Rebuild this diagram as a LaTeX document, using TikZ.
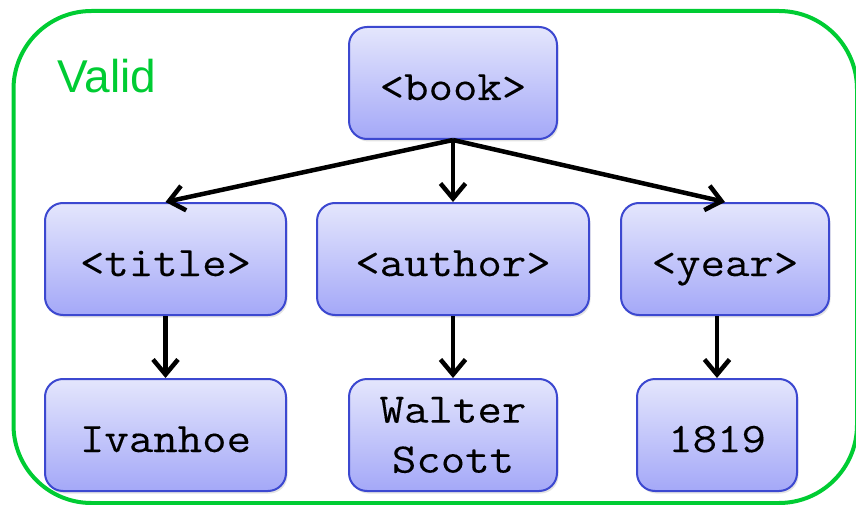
\documentclass[tikz,border=0pt]{standalone}
\usepackage{fontspec}
\setmainfont{Liberation Sans}
\newfontfamily\codefont[FakeStretch=1.13,FakeBold=0.2]{Latin Modern Mono}
\usetikzlibrary{arrows.meta,shadows,calc}

\definecolor{frameGreen}{RGB}{0,204,51}
\definecolor{boxTop}{RGB}{228,230,252}
\definecolor{boxBottom}{RGB}{164,168,248}
\definecolor{boxBorder}{RGB}{60,72,208}

\begin{document}
\begin{tikzpicture}[x=1pt,y=-1pt,
  elem/.style={draw=boxBorder, line width=2pt, rounded corners=18pt,
    top color=boxTop, bottom color=boxBottom,
    drop shadow={opacity=0.22, shadow xshift=1.5pt, shadow yshift=-2.5pt},
    minimum height=112pt, inner sep=0pt, align=center,
    text height=38pt, text depth=4pt,
    font=\codefont\fontsize{42}{50}\selectfont},
  twoline/.style={text height=, text depth=},
  link/.style={draw=black, line width=4.5pt,
    -{Straight Barb[length=15pt,width=25pt,line width=4.5pt]}}
]
\useasboundingbox (0,0) rectangle (856,505);

% outer frame
\draw[frameGreen, line width=4pt, rounded corners=78pt] (13.5,11) rectangle (857,503);
\node[anchor=base west, text=frameGreen, font=\fontsize{46}{46}\selectfont, inner sep=0pt]
  (valid) at (57,93) {Valid};

% element nodes
\node[elem, minimum width=208pt] (book)   at (453,83)  {<book>};
\node[elem, minimum width=241pt] (title)  at (165.5,259) {<title>};
\node[elem, minimum width=272pt] (author) at (453,259) {<author>};
\node[elem, minimum width=208pt] (year)   at (725,259) {<year>};

% text nodes
\node[elem, minimum width=241pt] (ivanhoe) at (165.5,435) {Ivanhoe};
\node[elem, twoline, minimum width=208pt] (walter) at (453,435) {Walter\\Scott};
\node[elem, minimum width=160pt] (n1819)   at (717,435) {1819};

% connectors
\draw[link] (book.south) -- (title.north);
\draw[link] (book.south) -- (author.north);
\draw[link] (book.south) -- (year.north);
\draw[link] (title.south) -- (ivanhoe.north);
\draw[link] (author.south) -- (walter.north);
\draw[link] (n1819.north |- year.south) -- (n1819.north);
\end{tikzpicture}
\end{document}
